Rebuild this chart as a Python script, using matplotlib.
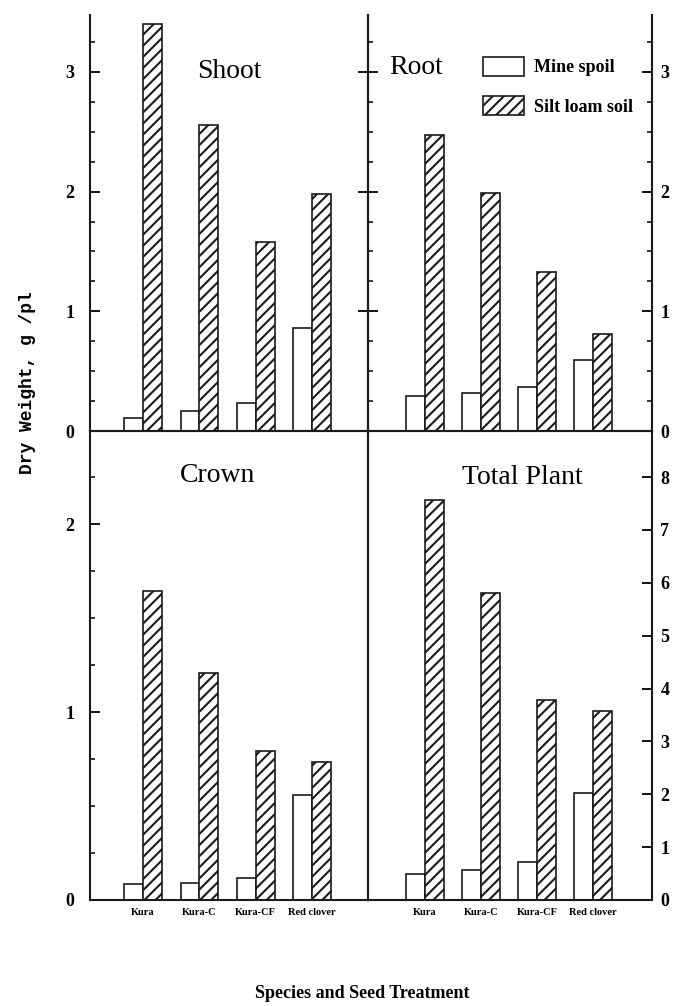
import matplotlib
matplotlib.use("Agg")
import matplotlib.pyplot as plt
import numpy as np
from matplotlib.ticker import MultipleLocator, FixedLocator, NullLocator

plt.rcParams['hatch.linewidth'] = 1.5
plt.rcParams['font.family'] = ['Liberation Serif', 'DejaVu Serif']

categories = ["Kura", "Kura-C", "Kura-CF", "Red clover"]
series = ["Mine spoil", "Silt loam soil"]

shoot_mine = [0.11, 0.17, 0.23, 0.86]
shoot_silt = [3.40, 2.56, 1.58, 1.98]
root_mine = [0.29, 0.32, 0.37, 0.59]
root_silt = [2.47, 1.99, 1.33, 0.81]
crown_mine = [0.085, 0.09, 0.115, 0.56]
crown_silt = [1.645, 1.21, 0.79, 0.735]
total_mine = [0.49, 0.57, 0.71, 2.03]
total_silt = [7.56, 5.80, 3.79, 3.58]

W, H = 673, 1006
fig = plt.figure(figsize=(W / 100, H / 100), dpi=100)

def ax_at(x0, y0, x1, y1):
    return fig.add_axes([x0 / W, 1 - y1 / H, (x1 - x0) / W, (y1 - y0) / H])

ax_tl = ax_at(90, 15, 368, 431)
ax_tr = ax_at(368, 15, 652, 431)
ax_bl = ax_at(90, 431, 368, 900)
ax_br = ax_at(368, 431, 652, 900)

x = np.arange(1, len(categories) + 1)
bw = 0.335
lw_sp = 1.5
tick_font = dict(fontsize=13, fontweight='bold', family='Liberation Serif')

def draw(ax, mine, silt):
    b1 = ax.bar(x - bw / 2, mine, bw, facecolor='white', edgecolor='#1a1a1a', linewidth=1.2, label=series[0])
    b2 = ax.bar(x + bw / 2, silt, bw, facecolor='white', edgecolor='#1a1a1a', linewidth=1.2, hatch='///', label=series[1])
    for s in ax.spines.values():
        s.set_linewidth(lw_sp)
        s.set_color('#1a1a1a')
    ax.set_facecolor('none')
    return b1, b2

b1, b2 = draw(ax_tl, shoot_mine, shoot_silt)
draw(ax_tr, root_mine, root_silt)
draw(ax_bl, crown_mine, crown_silt)
draw(ax_br, total_mine, total_silt)

ax_tl.set_xlim(0.06, 4.99)
ax_bl.set_xlim(0.06, 4.99)
ax_tr.set_xlim(-0.02, 5.05)
ax_br.set_xlim(-0.02, 5.05)

ax_tl.set_ylim(0, 3.475)
ax_tr.set_ylim(0, 3.475)
ax_bl.set_ylim(0, 2.495)
ax_br.set_ylim(0, 8.87)

for ax in (ax_tl, ax_tr):
    ax.spines['top'].set_visible(False)
    ax.set_xticks([])

# Top-left
ax_tl.yaxis.set_major_locator(FixedLocator([0, 1, 2, 3]))
ax_tl.yaxis.set_minor_locator(MultipleLocator(0.25))
ax_tl.tick_params(axis='y', which='major', direction='in', length=7, width=1.3,
                  left=True, right=True, labelleft=True, labelright=False, pad=11)
ax_tl.tick_params(axis='y', which='minor', direction='in', length=3.5, width=1.1,
                  left=True, right=False)
for t in ax_tl.get_yticklabels():
    t.set(**tick_font)

# Top-right
ax_tr.yaxis.set_major_locator(FixedLocator([0, 1, 2, 3]))
ax_tr.yaxis.set_minor_locator(MultipleLocator(0.25))
ax_tr.tick_params(axis='y', which='major', direction='in', length=7, width=1.3,
                  left=True, right=True, labelleft=False, labelright=True, pad=6)
ax_tr.tick_params(axis='y', which='minor', direction='in', length=3.5, width=1.1,
                  left=True, right=True)
for t in ax_tr.get_yticklabels():
    t.set(**tick_font)

# Bottom-left
ax_bl.yaxis.set_major_locator(FixedLocator([0, 1, 2]))
ax_bl.yaxis.set_minor_locator(MultipleLocator(0.25))
ax_bl.tick_params(axis='y', which='major', direction='in', length=7, width=1.3,
                  left=True, right=False, labelleft=True, pad=11)
ax_bl.tick_params(axis='y', which='minor', direction='in', length=3.5, width=1.1,
                  left=True, right=False)
for t in ax_bl.get_yticklabels():
    t.set(**tick_font)

# Bottom-right
ax_br.yaxis.set_major_locator(FixedLocator(list(range(0, 9))))
ax_br.yaxis.set_minor_locator(NullLocator())
ax_br.tick_params(axis='y', which='major', direction='in', length=7, width=1.3,
                  left=False, right=True, labelleft=False, labelright=True, pad=6)
for t in ax_br.get_yticklabels():
    t.set(**tick_font)

for ax in (ax_bl, ax_br):
    ax.set_xticks(x)
    ax.set_xticklabels(categories, fontsize=7.5, fontweight='bold', family='Liberation Serif')
    ax.tick_params(axis='x', length=0, pad=6)

# Panel titles
title_font = dict(fontsize=20, family='Liberation Serif', ha='center', va='center')
fig.text(229 / W, 1 - 72 / H, "Shoot", **title_font)
fig.text(416 / W, 1 - 67 / H, "Root", **title_font)
fig.text(218 / W, 1 - 476 / H, "Crown", **title_font)
fig.text(522 / W, 1 - 478 / H, "Total Plant", **title_font)

# Legend
ax_tr.legend([b1, b2], series, loc='upper left',
             bbox_to_anchor=(483 / W, 1 - 57 / H), bbox_transform=fig.transFigure,
             frameon=False, borderpad=0, borderaxespad=0,
             handlelength=2.25, handleheight=1.2, handletextpad=0.6, labelspacing=1.1,
             prop=dict(family='Liberation Serif', weight='bold', size=13))

# Axis labels
fig.text(28 / W, 1 - 383 / H, "Dry Weight, g /pl", rotation=90, ha='center', va='center',
         fontsize=13, fontweight='bold', family='Liberation Mono')
fig.text(362 / W, 1 - 993 / H, "Species and Seed Treatment", ha='center', va='center',
         fontsize=13, fontweight='bold', family='Liberation Serif')

fig.savefig("out.png", dpi=100, facecolor='white')
